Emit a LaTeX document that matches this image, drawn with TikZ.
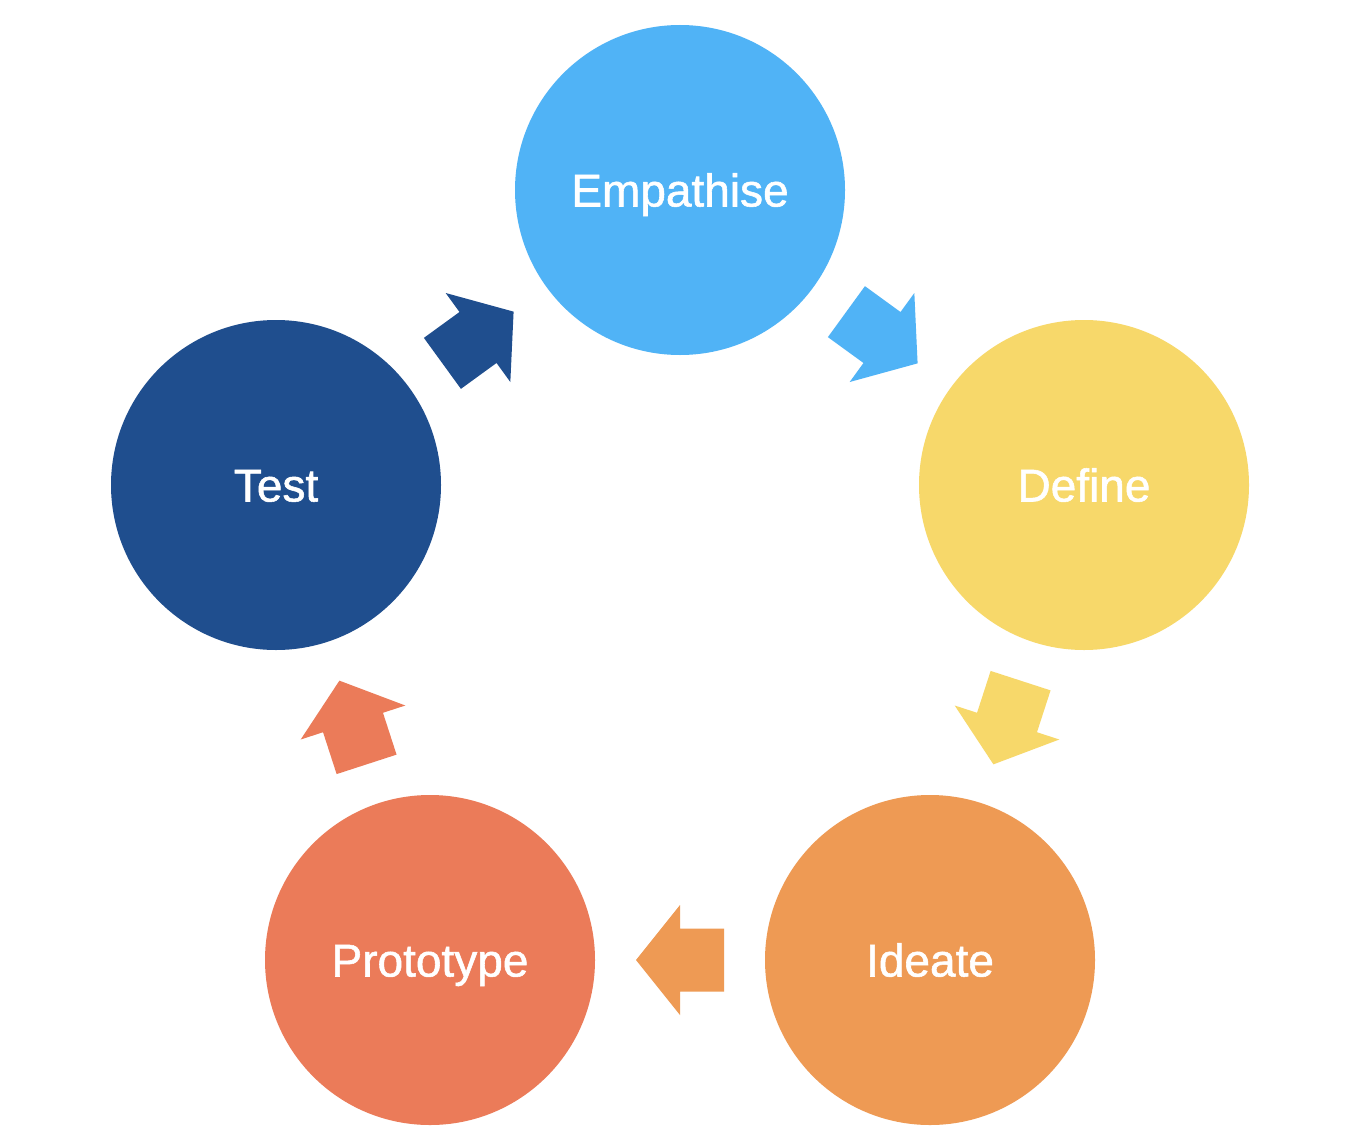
\documentclass[tikz,border=0pt]{standalone}
\usepackage{fontspec}
\newfontfamily\labfont[FakeBold=1.2]{Liberation Sans}
\usetikzlibrary{calc}
\definecolor{cEmp}{HTML}{50B3F6}
\definecolor{cDef}{HTML}{F7D86A}
\definecolor{cIde}{HTML}{EE9A54}
\definecolor{cPro}{HTML}{EB7B59}
\definecolor{cTes}{HTML}{1F4E8E}
\tikzset{
  stage/.style={circle, minimum size=330pt, inner sep=0pt, outer sep=0pt, draw=none,
    text=white, text height=33pt, text depth=0pt, font=\labfont\fontsize{46}{55}\selectfont},
  blockarrow/.pic={
    \fill[pic actions] (-44,-31.5) -- (0,-31.5) -- (0,-55) -- (44,0) -- (0,55) -- (0,31.5) -- (-44,31.5) -- cycle;
  }
}
\begin{document}
\begin{tikzpicture}[x=1pt,y=-1pt]
\useasboundingbox (0,0) rectangle (1356,1132);
\fill[white] (0,0) rectangle (1356,1132);
\node[stage, fill=cEmp] (E) at (680,190) {Empathise};
\node[stage, fill=cDef] (D) at (1084,485) {Define};
\node[stage, fill=cIde] (I) at (930,960) {Ideate};
\node[stage, fill=cPro] (P) at (430,960) {Prototype};
\node[stage, fill=cTes] (T) at (276,485) {Test};
\coordinate (m1) at ($(E)!0.5!(D)$);
\coordinate (m2) at ($(D)!0.5!(I)$);
\coordinate (m3) at ($(I)!0.5!(P)$);
\coordinate (m4) at ($(P)!0.5!(T)$);
\coordinate (m5) at ($(T)!0.5!(E)$);
\pic[fill=cEmp, rotate=-36] at (m1) {blockarrow};
\pic[fill=cDef, rotate=-108] at (m2) {blockarrow};
\pic[fill=cIde, rotate=180] at (m3) {blockarrow};
\pic[fill=cPro, rotate=108] at (m4) {blockarrow};
\pic[fill=cTes, rotate=36] at (m5) {blockarrow};
\end{tikzpicture}
\end{document}
